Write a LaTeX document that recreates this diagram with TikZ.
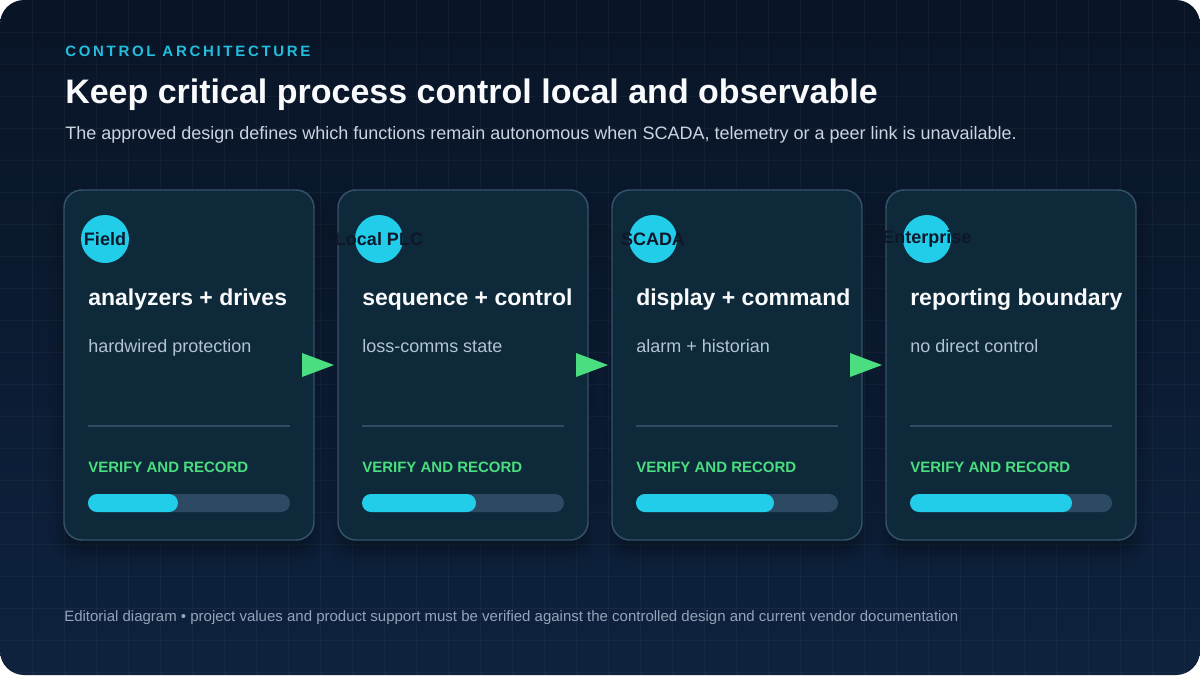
\documentclass[tikz,border=0pt]{standalone}
\usepackage{fontspec}
\setmainfont{Liberation Sans}
\newfontfamily\kickerfont[LetterSpace=18]{Liberation Sans}
\usepackage{tikz}
\usetikzlibrary{positioning, calc, shadows.blur}
\definecolor{bgtop}{RGB}{9,20,38}
\definecolor{bgbot}{RGB}{14,34,62}
\definecolor{cardbg}{RGB}{14,41,58}
\definecolor{cardedge}{RGB}{54,82,106}
\definecolor{accent}{RGB}{34,205,234}
\definecolor{kickink}{RGB}{34,190,222}
\definecolor{barbg}{RGB}{44,74,100}
\definecolor{divcol}{RGB}{46,76,102}
\definecolor{flowgreen}{RGB}{74,222,128}
\definecolor{titleink}{RGB}{248,250,252}
\definecolor{ledeink}{RGB}{203,213,225}
\definecolor{subink}{RGB}{180,196,212}
\definecolor{footink}{RGB}{148,163,184}
\definecolor{tagink}{RGB}{15,23,42}
\tikzset{
  gridline/.style={draw=white, draw opacity=0.035, line width=0.75pt},
  cardbox/.style={rectangle, rounded corners=13.5pt, draw=cardedge,
                  line width=1.1pt, fill=cardbg, minimum width=187.5pt,
                  minimum height=262.5pt, inner sep=0pt, outer sep=0pt,
                  blur shadow={shadow xshift=0pt, shadow yshift=-9pt,
                               shadow blur radius=12pt, shadow opacity=35}},
  tagdot/.style={circle, fill=accent, minimum size=36pt, inner sep=0pt},
  tagtxt/.style={font=\fontsize{13.5}{16}\selectfont\bfseries, text=tagink,
                 inner sep=0pt},
  plain/.style={anchor=base west, inner sep=0pt},
  headtxt/.style={plain, font=\fontsize{17.25}{20}\selectfont\bfseries,
                  text=titleink},
  subtxt/.style={plain, font=\fontsize{13.5}{16}\selectfont, text=subink},
  verifytxt/.style={plain, font=\fontsize{11.25}{13}\selectfont\bfseries,
                    text=flowgreen},
  divline/.style={draw=divcol, line width=1.1pt},
  bartrack/.style={fill=barbg, rounded corners=6.75pt},
  barfill/.style={fill=accent, rounded corners=6.75pt},
  flowtip/.style={fill=flowgreen},
}

\begin{document}
\begin{tikzpicture}[x=0.75pt, y=-0.75pt]
  \useasboundingbox (0,0) rectangle (1200,675);
  % backdrop and grid
  \shade[top color=bgtop, bottom color=bgbot, rounded corners=18pt]
    (0,0) rectangle (1200,675);
  \begin{scope}
    \clip[rounded corners=18pt] (0,0) rectangle (1200,675);
    \foreach \gx in {32,64,...,1184} \draw[gridline] (\gx,0) -- (\gx,675);
    \foreach \gy in {32,64,...,672} \draw[gridline] (0,\gy) -- (1200,\gy);
  \end{scope}

  % header
  \node[plain, font=\kickerfont\fontsize{11.25}{13}\selectfont\bfseries,
        text=kickink] (kick) at (65,56) {CONTROL ARCHITECTURE};
  \node[plain, font=\fontsize{25.5}{30}\selectfont\bfseries, text=titleink]
    (ttl) at (65,103) {Keep critical process control local and observable};
  \node[plain, font=\fontsize{13.5}{16}\selectfont, text=ledeink] (lede)
    at (65,139) {The approved design defines which functions remain autonomous
    when SCADA, telemetry or a peer link is unavailable.};

  % cards
  \node[cardbox] (c1) at (189,365) {};
  \node[cardbox, right=18pt of c1] (c2) {};
  \node[cardbox, right=18pt of c2] (c3) {};
  \node[cardbox, right=18pt of c3] (c4) {};

  % card 1
  \node[tagdot, label={[tagtxt]center:Field}] (t1)
    at ($(c1.north west)+(41,49)$) {};
  \node[headtxt] (h1) at ($(c1.north west)+(24,115)$) {analyzers + drives};
  \node[subtxt] (s1) at ($(c1.north west)+(24,162)$) {hardwired protection};
  \draw[divline] ($(c1.north west)+(24,236)$) -- ($(c1.north west)+(226,236)$);
  \node[verifytxt] (v1) at ($(c1.north west)+(24,282)$) {VERIFY AND RECORD};
  \fill[bartrack] ($(c1.north west)+(24,304)$) rectangle ($(c1.north west)+(226,322)$);
  \fill[barfill] ($(c1.north west)+(24,304)$) rectangle ($(c1.north west)+(114,322)$);

  % card 2
  \node[tagdot, label={[tagtxt]center:Local PLC}] (t2)
    at ($(c2.north west)+(41,49)$) {};
  \node[headtxt] (h2) at ($(c2.north west)+(24,115)$) {sequence + control};
  \node[subtxt] (s2) at ($(c2.north west)+(24,162)$) {loss-comms state};
  \draw[divline] ($(c2.north west)+(24,236)$) -- ($(c2.north west)+(226,236)$);
  \node[verifytxt] (v2) at ($(c2.north west)+(24,282)$) {VERIFY AND RECORD};
  \fill[bartrack] ($(c2.north west)+(24,304)$) rectangle ($(c2.north west)+(226,322)$);
  \fill[barfill] ($(c2.north west)+(24,304)$) rectangle ($(c2.north west)+(138,322)$);

  % card 3
  \node[tagdot, label={[tagtxt]center:SCADA}] (t3)
    at ($(c3.north west)+(41,49)$) {};
  \node[headtxt] (h3) at ($(c3.north west)+(24,115)$) {display + command};
  \node[subtxt] (s3) at ($(c3.north west)+(24,162)$) {alarm + historian};
  \draw[divline] ($(c3.north west)+(24,236)$) -- ($(c3.north west)+(226,236)$);
  \node[verifytxt] (v3) at ($(c3.north west)+(24,282)$) {VERIFY AND RECORD};
  \fill[bartrack] ($(c3.north west)+(24,304)$) rectangle ($(c3.north west)+(226,322)$);
  \fill[barfill] ($(c3.north west)+(24,304)$) rectangle ($(c3.north west)+(162,322)$);

  % card 4
  \node[tagdot, label={[tagtxt]center:Enterprise}] (t4)
    at ($(c4.north west)+(41,49)$) {};
  \node[headtxt] (h4) at ($(c4.north west)+(24,115)$) {reporting boundary};
  \node[subtxt] (s4) at ($(c4.north west)+(24,162)$) {no direct control};
  \draw[divline] ($(c4.north west)+(24,236)$) -- ($(c4.north west)+(226,236)$);
  \node[verifytxt] (v4) at ($(c4.north west)+(24,282)$) {VERIFY AND RECORD};
  \fill[bartrack] ($(c4.north west)+(24,304)$) rectangle ($(c4.north west)+(226,322)$);
  \fill[barfill] ($(c4.north west)+(24,304)$) rectangle ($(c4.north west)+(186,322)$);

  % flow markers
  \fill[flowtip] ($(c1.east)+(-12,-12)$) -- ($(c2.west)+(-4,0)$)
    -- ($(c1.east)+(-12,12)$) -- cycle;
  \fill[flowtip] ($(c2.east)+(-12,-12)$) -- ($(c3.west)+(-4,0)$)
    -- ($(c2.east)+(-12,12)$) -- cycle;
  \fill[flowtip] ($(c3.east)+(-12,-12)$) -- ($(c4.west)+(-4,0)$)
    -- ($(c3.east)+(-12,12)$) -- cycle;

  % footer
  \node[plain, font=\fontsize{11.25}{13}\selectfont, text=footink] (foot)
    at (64,621) {Editorial diagram \textbullet{} project values and product
    support must be verified against the controlled design and current vendor
    documentation};
\end{tikzpicture}
\end{document}
